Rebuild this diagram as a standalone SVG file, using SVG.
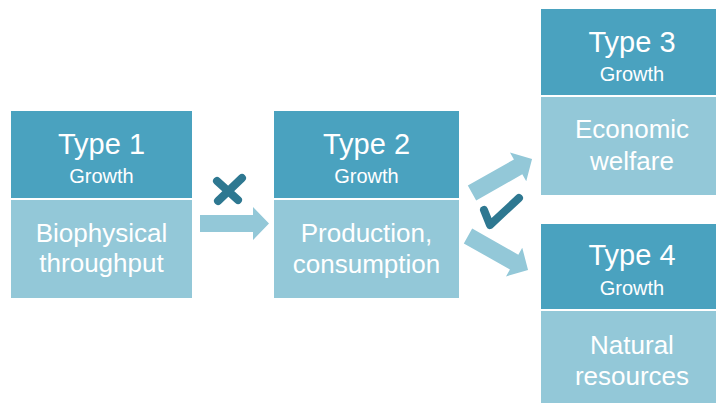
<svg xmlns="http://www.w3.org/2000/svg" width="716" height="403" viewBox="0 0 716 403">
<defs>
<style>
.hd{fill:#4aa2bf}
.bd{fill:#93c8d8}
.t{font-family:"Liberation Sans",Arial,sans-serif;fill:#ffffff;text-anchor:middle}
.big{font-size:29px}
.sm{font-size:20px}
.md{font-size:26px}
.arr{fill:#93c8d8}
.mk{fill:none;stroke:#2e7891;stroke-width:8;stroke-linecap:round;stroke-linejoin:round}
</style>
<path id="arrow" d="M0,-8.5 L53,-8.5 L53,-16.5 L69,0 L53,16.5 L53,8.5 L0,8.5 Z"/>
</defs>
<rect width="716" height="403" fill="#ffffff"/>
<g id="type1">
<rect class="hd" x="11" y="111" width="181" height="87"/>
<rect class="bd" x="11" y="200" width="181" height="98"/>
<text class="t big" x="101.5" y="154">Type 1</text>
<text class="t sm" x="101.5" y="183">Growth</text>
<text class="t md" x="101.5" y="242">Biophysical</text>
<text class="t md" x="101.5" y="272">throughput</text>
</g>
<g id="type2">
<rect class="hd" x="274" y="111" width="185" height="87"/>
<rect class="bd" x="274" y="200" width="185" height="98"/>
<text class="t big" x="366.5" y="154">Type 2</text>
<text class="t sm" x="366.5" y="183">Growth</text>
<text class="t md" x="366.5" y="242">Production,</text>
<text class="t md" x="366.5" y="273">consumption</text>
</g>
<g id="type3">
<rect class="hd" x="541" y="9" width="182" height="86"/>
<rect class="bd" x="541" y="97" width="182" height="98"/>
<text class="t big" x="632" y="52">Type 3</text>
<text class="t sm" x="632" y="81">Growth</text>
<text class="t md" x="632" y="138">Economic</text>
<text class="t md" x="632" y="170">welfare</text>
</g>
<g id="type4">
<rect class="hd" x="541" y="224" width="182" height="85"/>
<rect class="bd" x="541" y="311" width="182" height="92"/>
<text class="t big" x="632" y="265">Type 4</text>
<text class="t sm" x="632" y="295">Growth</text>
<text class="t md" x="632" y="354">Natural</text>
<text class="t md" x="632" y="385">resources</text>
</g>
<g id="connectors">
<use href="#arrow" class="arr" transform="translate(200,223.5)"/>
<use href="#arrow" class="arr" transform="translate(472,193) rotate(-29.5)"/>
<use href="#arrow" class="arr" transform="translate(468,236) rotate(29.5)"/>
<path class="mk" d="M242,178 L218,201 M217,181 L238,200"/>
<path class="mk" d="M484,210 L490,225 L519,198"/>
</g>
</svg>
